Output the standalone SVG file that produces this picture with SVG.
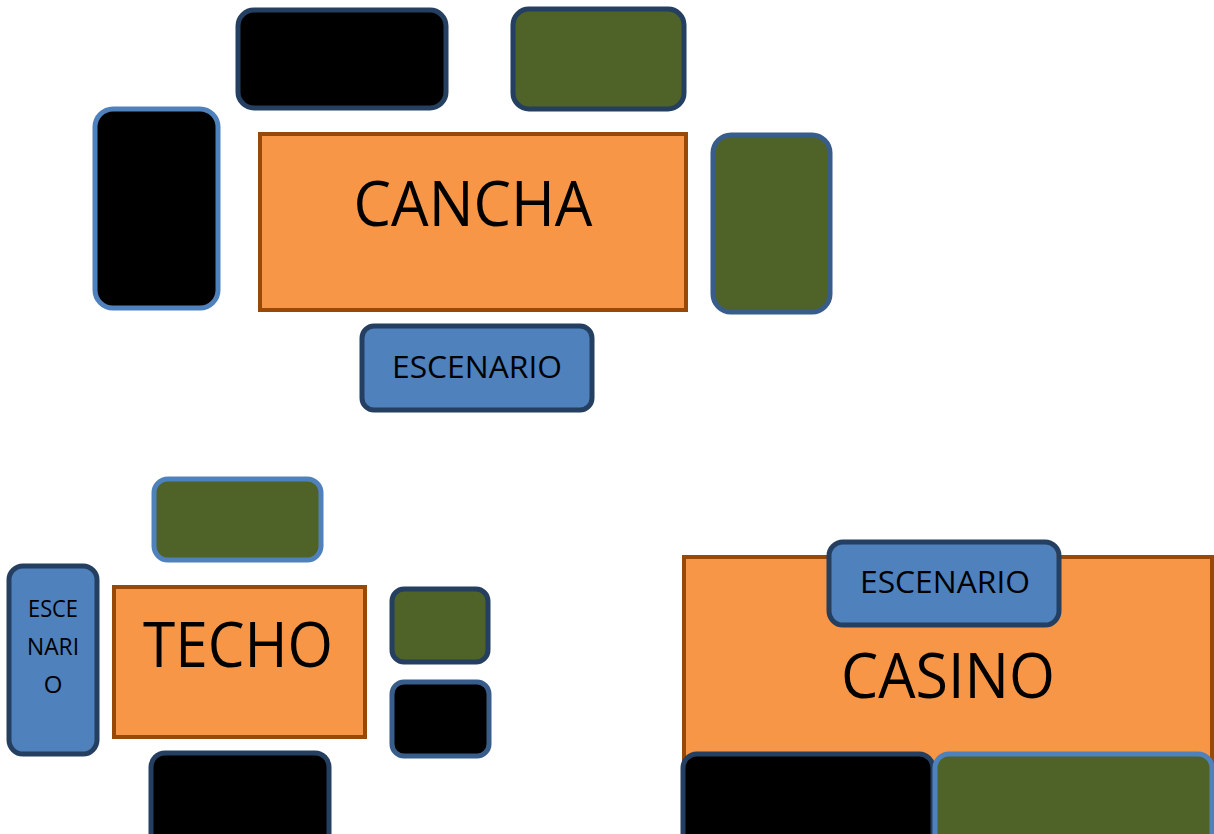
<svg xmlns="http://www.w3.org/2000/svg" width="1214" height="834" viewBox="0 0 1214 834">
<style>
.area{fill:#F79646;stroke:#984807;stroke-width:4}
.blk{fill:#000000}
.grn{fill:#4F6228}
.esc{fill:#4F81BD}
.sd{stroke:#243F60;stroke-width:5}
.sl{stroke:#4F81BD;stroke-width:5}
.sm{stroke:#385D8A;stroke-width:5}
text{font-family:"Open Sans","Liberation Sans",sans-serif;fill:#000;text-anchor:middle}
.big{font-size:62px}
.mid{font-size:31px}
.sml{font-size:24px}
</style>
<g id="cancha-group">
  <g id="cancha"><rect class="area" x="260" y="134" width="426" height="176"/><text class="big" x="473" y="226" textLength="239" lengthAdjust="spacingAndGlyphs">CANCHA</text></g>
  <g id="cancha-top-black"><rect class="blk sd" x="238" y="10" width="208" height="98" rx="16"/></g>
  <g id="cancha-top-green"><rect class="grn sd" x="513" y="9" width="171" height="100" rx="16"/></g>
  <g id="cancha-left-black"><rect class="blk sl" x="95" y="109" width="123" height="199" rx="18"/></g>
  <g id="cancha-right-green"><rect class="grn sm" x="713" y="135" width="117" height="177" rx="18"/></g>
  <g id="cancha-escenario"><rect class="esc sd" x="362" y="326" width="230" height="84" rx="12"/><text class="mid" x="477" y="378" textLength="170" lengthAdjust="spacingAndGlyphs">ESCENARIO</text></g>
</g>
<g id="techo-group">
  <g id="techo"><rect class="area" x="114" y="587" width="251" height="150"/><text class="big" x="238" y="667" textLength="190" lengthAdjust="spacingAndGlyphs">TECHO</text></g>
  <g id="techo-top-green"><rect class="grn sl" x="154" y="479" width="167" height="81" rx="14"/></g>
  <g id="techo-escenario"><rect class="esc sd" x="9" y="566" width="88" height="188" rx="14"/>
    <text class="sml" x="53" y="617" textLength="50" lengthAdjust="spacingAndGlyphs">ESCE</text>
    <text class="sml" x="53" y="655" textLength="52" lengthAdjust="spacingAndGlyphs">NARI</text>
    <text class="sml" x="53" y="693">O</text></g>
  <g id="techo-right-green"><rect class="grn sd" x="392" y="589" width="96" height="73" rx="12"/></g>
  <g id="techo-right-black"><rect class="blk sm" x="392" y="682" width="97" height="74" rx="12"/></g>
  <g id="techo-bottom-black"><rect class="blk sd" x="151" y="753" width="178" height="100" rx="14"/></g>
</g>
<g id="casino-group">
  <g id="casino"><rect class="area" x="684" y="557" width="528" height="300"/><text class="big" x="948" y="698" textLength="214" lengthAdjust="spacingAndGlyphs">CASINO</text></g>
  <g id="casino-escenario"><rect class="esc sd" x="829" y="542" width="230" height="83" rx="14"/><text class="mid" x="945" y="593" textLength="170" lengthAdjust="spacingAndGlyphs">ESCENARIO</text></g>
  <g id="casino-bottom-black"><rect class="blk sd" x="683" y="754" width="250" height="100" rx="14"/></g>
  <g id="casino-bottom-green"><rect class="grn sl" x="935" y="754" width="277" height="100" rx="14"/></g>
</g>
<g id="connectors"/>
</svg>
